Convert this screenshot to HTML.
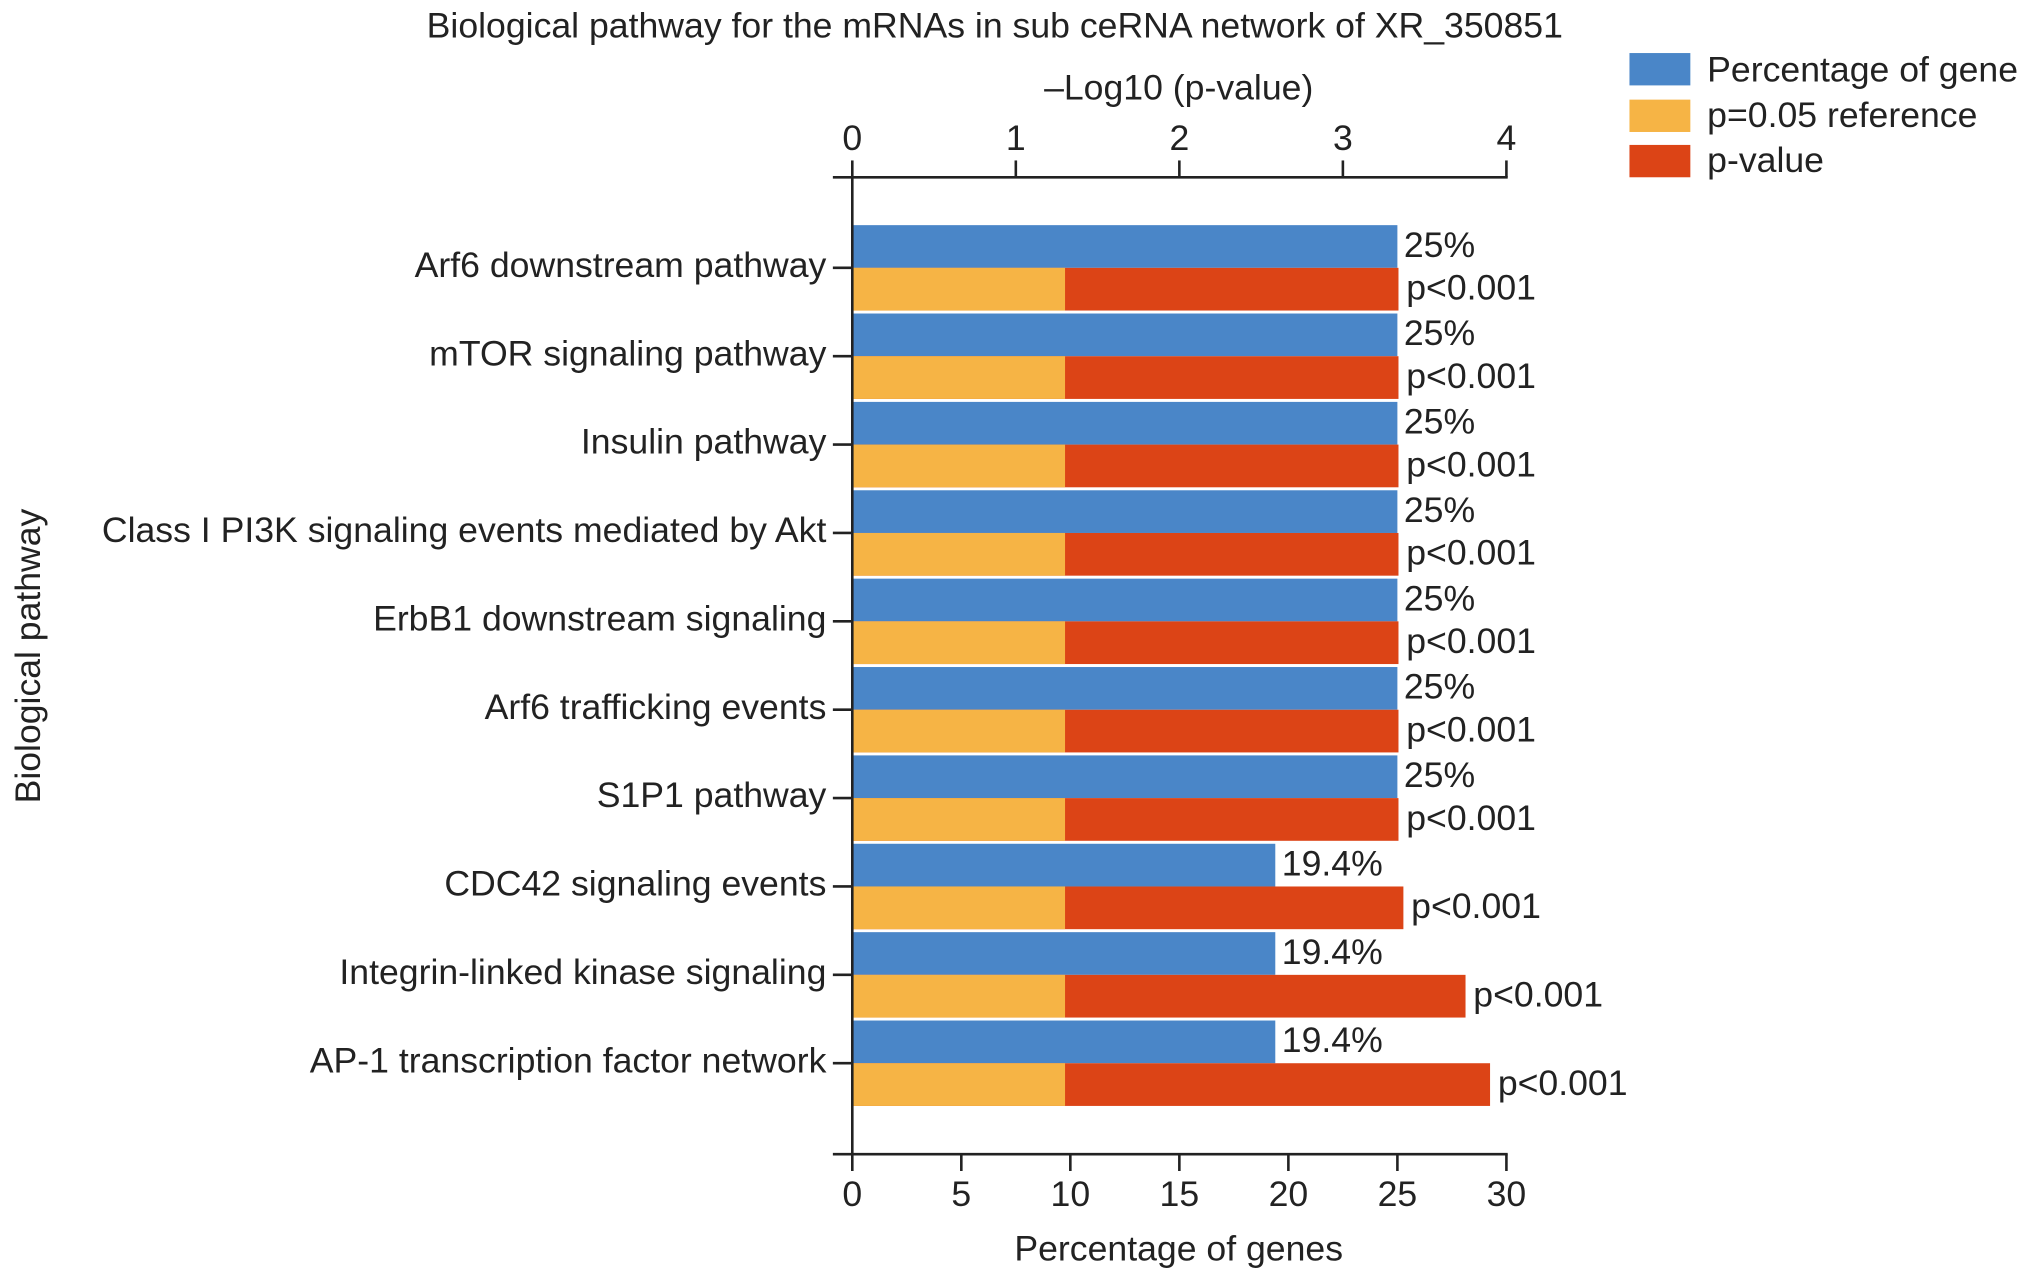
<!DOCTYPE html>
<html><head><meta charset="utf-8"><style>
html,body{margin:0;padding:0;background:#fff}
svg{display:block;font-family:"Liberation Sans",Arial,sans-serif}
</style></head><body>
<svg id="chart" width="2031" height="1281" viewBox="0 0 1568 990" preserveAspectRatio="none" xmlns="http://www.w3.org/2000/svg">
<text x="768" y="29" font-size="27.5" text-anchor="middle" fill="#222">Biological pathway for the mRNAs in sub ceRNA network of XR_350851</text>
<text x="910" y="77" font-size="27.5" text-anchor="middle" fill="#222">–Log10 (p-value)</text>
<text x="910" y="974" font-size="27.5" text-anchor="middle" fill="#222">Percentage of genes</text>
<text transform="translate(31,507) rotate(-90)" font-size="27.5" text-anchor="middle" fill="#222">Biological pathway</text>
<g>
<rect x="1258" y="41" width="47" height="25" fill="#4a86c8"/>
<text x="1318" y="63" font-size="27.5" fill="#222">Percentage of gene</text>
<rect x="1258" y="77" width="47" height="25" fill="#f6b445"/>
<text x="1318" y="98" font-size="27.5" fill="#222">p=0.05 reference</text>
<rect x="1258" y="112" width="47" height="25" fill="#dc4416"/>
<text x="1318" y="133" font-size="27.5" fill="#222">p-value</text>
</g>
<g id="marks"></g>
<g id="axes"></g>
</svg>
<script>
const categories = ["Arf6 downstream pathway","mTOR signaling pathway","Insulin pathway","Class I PI3K signaling events mediated by Akt","ErbB1 downstream signaling","Arf6 trafficking events","S1P1 pathway","CDC42 signaling events","Integrin-linked kinase signaling","AP-1 transcription factor network"];
const percentValues = [25,25,25,25,25,25,25,19.4,19.4,19.4];
const percentLabels = ["25%","25%","25%","25%","25%","25%","25%","19.4%","19.4%","19.4%"];
const referenceValues = [1.301,1.301,1.301,1.301,1.301,1.301,1.301,1.301,1.301,1.301];
const logPValues = [3.34,3.34,3.34,3.34,3.34,3.34,3.34,3.37,3.75,3.9];
const pLabels = ["p<0.001","p<0.001","p<0.001","p<0.001","p<0.001","p<0.001","p<0.001","p<0.001","p<0.001","p<0.001"];
const bottomTicks = [0,5,10,15,20,25,30];
const topTicks = [0,1,2,3,4];

const NS="http://www.w3.org/2000/svg";
const X0=658, X1=1163;
const xPct = v => X0 + v/30*(X1-X0);
const xLog = v => X0 + v/4*(X1-X0);
const groupTop = i => 174 + i*68.3;
const BH = 33;
const FS = 27.5;
function mk(tag, attrs, parent){const e=document.createElementNS(NS,tag);for(const k in attrs)e.setAttribute(k,attrs[k]);parent.appendChild(e);return e;}
const marks=document.getElementById('marks'), axes=document.getElementById('axes');

categories.forEach((c,i)=>{
  const t=groupTop(i);
  const b=mk('rect',{x:X0,y:t,width:xPct(percentValues[i])-X0,height:BH,fill:'#4a86c8'},marks);
  
  
  const p=mk('rect',{x:X0,y:t+BH,width:xLog(logPValues[i])-X0,height:BH,fill:'#dc4416'},marks);
  
  
  const r=mk('rect',{x:X0,y:t+BH,width:xLog(referenceValues[i])-X0,height:BH,fill:'#f6b445'},marks);
  
  
  const pl=mk('text',{x:xPct(percentValues[i])+5,y:t+BH/2+8,'font-size':FS,fill:'#222'},marks);
  pl.textContent=percentLabels[i];
  
  
  const vl=mk('text',{x:xLog(logPValues[i])+6,y:t+BH*1.5+8,'font-size':FS,fill:'#222'},marks);
  vl.textContent=pLabels[i];
  
  
  const cy=t+BH;
  const tk=mk('line',{x1:643,x2:X0,y1:cy,y2:cy,stroke:'#222','stroke-width':2},axes);
  
  
  const cl=mk('text',{x:638,y:cy+7,'font-size':FS,'text-anchor':'end',fill:'#222'},axes);
  cl.textContent=c;
  
  
});
const ya=mk('line',{x1:X0,x2:X0,y1:137,y2:892,stroke:'#222','stroke-width':2},axes);


const ta=mk('line',{x1:643,x2:X1+1,y1:137,y2:137,stroke:'#222','stroke-width':2},axes);


const ba=mk('line',{x1:643,x2:X1+1,y1:892,y2:892,stroke:'#222','stroke-width':2},axes);


topTicks.forEach(v=>{
  const x=xLog(v);
  const l=mk('line',{x1:x,x2:x,y1:124,y2:137,stroke:'#222','stroke-width':2},axes);
  
  
  const t=mk('text',{x:x,y:116,'font-size':FS,'text-anchor':'middle',fill:'#222'},axes);
  t.textContent=v;
  
  
});
bottomTicks.forEach(v=>{
  const x=xPct(v);
  const l=mk('line',{x1:x,x2:x,y1:892,y2:905,stroke:'#222','stroke-width':2},axes);
  
  
  const t=mk('text',{x:x,y:932,'font-size':FS,'text-anchor':'middle',fill:'#222'},axes);
  t.textContent=v;
  
  
});
</script>
</body></html>
